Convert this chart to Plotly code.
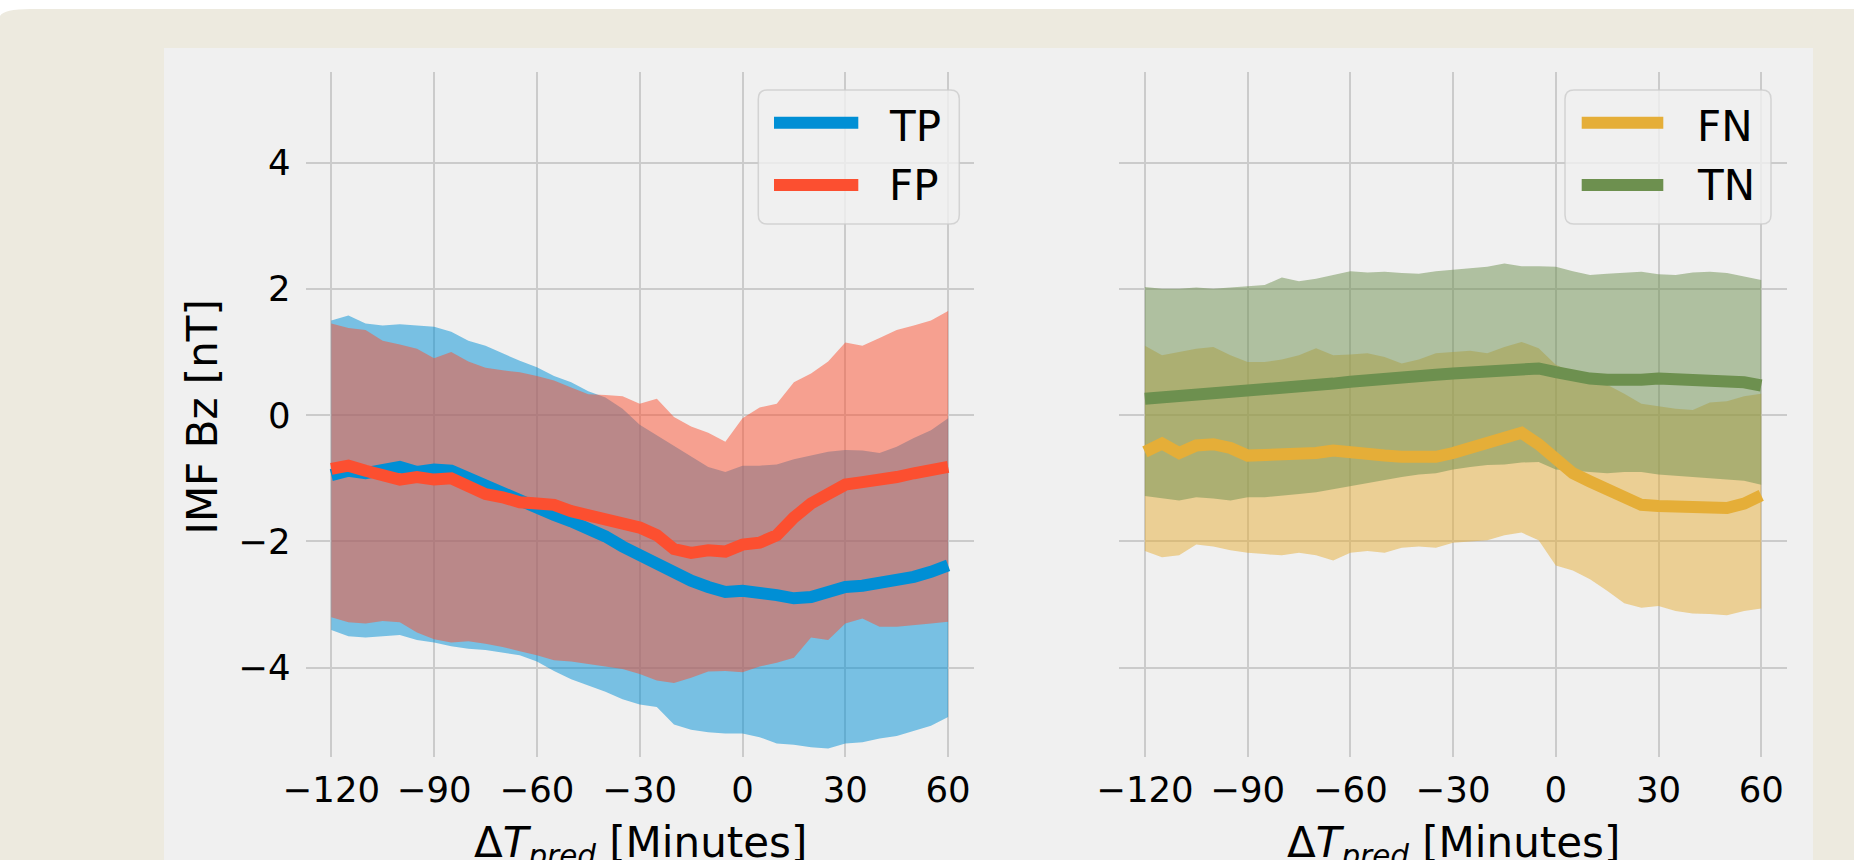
import plotly.graph_objects as go

# ---------------- data ----------------
minutes = list(range(-120, 61, 5))
x_ticks = [-120, -90, -60, -30, 0, 30, 60]
y_ticks = [-4, -2, 0, 2, 4]

tp_mean = [-0.95, -0.88, -0.92, -0.85, -0.82, -0.90, -0.86, -0.88, -1.00, -1.10, -1.22, -1.38, -1.50,
           -1.58, -1.68, -1.78, -1.92, -2.08, -2.22, -2.38, -2.50, -2.62, -2.72, -2.80, -2.78, -2.80,
           -2.85, -2.90, -2.88, -2.80, -2.72, -2.70, -2.66, -2.62, -2.56, -2.48, -2.38]
tp_upper = [1.50, 1.58, 1.45, 1.42, 1.44, 1.42, 1.40, 1.32, 1.18, 1.10, 0.98, 0.86, 0.76, 0.62, 0.52,
            0.38, 0.28, 0.10, -0.15, -0.32, -0.48, -0.65, -0.82, -0.90, -0.80, -0.80, -0.78, -0.70,
            -0.64, -0.58, -0.55, -0.56, -0.60, -0.50, -0.36, -0.24, -0.05]
tp_lower = [-3.40, -3.50, -3.52, -3.50, -3.48, -3.56, -3.60, -3.66, -3.70, -3.72, -3.76, -3.80, -3.90,
            -4.05, -4.18, -4.28, -4.38, -4.50, -4.58, -4.62, -4.90, -4.98, -5.02, -5.04, -5.04, -5.10,
            -5.20, -5.22, -5.26, -5.28, -5.20, -5.18, -5.12, -5.08, -5.00, -4.92, -4.78]

fp_mean = [-0.85, -0.80, -0.88, -0.95, -1.02, -0.98, -1.02, -1.00, -1.15, -1.25, -1.30, -1.38, -1.40,
           -1.42, -1.52, -1.58, -1.65, -1.72, -1.78, -1.90, -2.12, -2.18, -2.14, -2.16, -2.05, -2.02,
           -1.90, -1.62, -1.40, -1.25, -1.10, -1.06, -1.03, -0.98, -0.92, -0.88, -0.82]
fp_upper = [1.45, 1.38, 1.35, 1.18, 1.12, 1.05, 0.90, 1.00, 0.85, 0.75, 0.71, 0.68, 0.62, 0.55, 0.44,
            0.33, 0.32, 0.30, 0.18, 0.26, -0.03, -0.18, -0.28, -0.42, -0.05, 0.12, 0.18, 0.52, 0.66,
            0.85, 1.15, 1.10, 1.22, 1.35, 1.42, 1.50, 1.65]
fp_lower = [-3.20, -3.28, -3.30, -3.26, -3.28, -3.44, -3.55, -3.60, -3.58, -3.62, -3.67, -3.74, -3.80,
            -3.88, -3.90, -3.94, -3.98, -4.02, -4.10, -4.20, -4.24, -4.16, -4.06, -4.05, -4.07, -3.98,
            -3.92, -3.84, -3.52, -3.56, -3.30, -3.22, -3.35, -3.35, -3.32, -3.30, -3.27]

fn_mean = [-0.58, -0.45, -0.60, -0.48, -0.46, -0.52, -0.64, -0.64, -0.63, -0.62, -0.60, -0.56, -0.60,
           -0.63, -0.64, -0.66, -0.68, -0.66, -0.60, -0.52, -0.44, -0.38, -0.28, -0.46, -0.72, -0.92,
           -1.05, -1.16, -1.30, -1.42, -1.44, -1.45, -1.48, -1.50, -1.47, -1.40, -1.27]
fn_upper = [1.10, 0.95, 1.00, 1.05, 1.08, 0.95, 0.84, 0.84, 0.88, 0.95, 1.06, 0.95, 0.96, 0.98, 0.92,
            0.82, 0.88, 0.98, 1.00, 1.02, 0.98, 1.08, 1.16, 1.06, 0.80, 0.68, 0.58, 0.48, 0.34, 0.18,
            0.14, 0.10, 0.08, 0.20, 0.22, 0.30, 0.34]
fn_lower = [-2.15, -2.25, -2.22, -2.05, -2.08, -2.14, -2.18, -2.20, -2.22, -2.18, -2.22, -2.30, -2.18,
            -2.15, -2.18, -2.10, -2.08, -2.10, -2.02, -2.00, -1.98, -1.90, -1.86, -1.98, -2.38, -2.46,
            -2.60, -2.78, -2.98, -3.05, -3.02, -3.10, -3.14, -3.15, -3.17, -3.10, -3.06]

tn_mean = [0.26, 0.28, 0.29, 0.32, 0.34, 0.37, 0.36, 0.38, 0.40, 0.44, 0.47, 0.50, 0.53, 0.56, 0.58,
           0.60, 0.62, 0.64, 0.66, 0.68, 0.71, 0.72, 0.74, 0.74, 0.68, 0.62, 0.58, 0.56, 0.55, 0.56,
           0.58, 0.57, 0.56, 0.55, 0.54, 0.52, 0.47]
tn_upper = [2.03, 2.00, 2.00, 2.02, 2.00, 2.02, 2.04, 2.06, 2.18, 2.12, 2.16, 2.22, 2.28, 2.26, 2.27,
            2.25, 2.24, 2.28, 2.30, 2.33, 2.35, 2.40, 2.36, 2.36, 2.35, 2.28, 2.22, 2.24, 2.25, 2.27,
            2.23, 2.22, 2.26, 2.27, 2.25, 2.20, 2.14]
tn_lower = [-1.28, -1.32, -1.35, -1.30, -1.32, -1.35, -1.30, -1.30, -1.28, -1.25, -1.22, -1.18, -1.12,
            -1.08, -1.03, -0.98, -0.94, -0.92, -0.86, -0.82, -0.79, -0.78, -0.75, -0.74, -0.86, -0.88,
            -0.90, -0.92, -0.90, -0.90, -0.94, -0.96, -0.98, -1.00, -1.02, -1.04, -1.10]

# ---------------- styling ----------------
W, H = 1854, 860
FONT = "DejaVu Sans"
C_TP, C_FP, C_FN, C_TN = "#008fd5", "#fc4f30", "#e5ae38", "#6d904f"
F_TP, F_FP = "rgba(0,143,213,0.5)", "rgba(252,79,48,0.5)"
F_FN, F_TN = "rgba(229,174,56,0.5)", "rgba(109,144,79,0.5)"
LW = 12
GRID = "#cbcbcb"


def fx(px):
    return px / W


def fy(py):
    return 1 - py / H


fig = go.Figure()


def add_band(lower, upper, fill, xa, ya):
    fig.add_trace(go.Scatter(
        x=minutes + minutes[::-1], y=upper + lower[::-1], fill="toself", fillcolor=fill,
        mode="lines", line=dict(width=0), hoverinfo="skip", showlegend=False,
        xaxis=xa, yaxis=ya))


def add_line(vals, color, name, xa, ya):
    fig.add_trace(go.Scatter(
        x=minutes, y=vals, mode="lines", name=name, line=dict(color=color, width=LW),
        showlegend=False, xaxis=xa, yaxis=ya))


add_band(tp_lower, tp_upper, F_TP, "x", "y")
add_band(fp_lower, fp_upper, F_FP, "x", "y")
add_line(tp_mean, C_TP, "TP", "x", "y")
add_line(fp_mean, C_FP, "FP", "x", "y")

add_band(fn_lower, fn_upper, F_FN, "x2", "y2")
add_band(tn_lower, tn_upper, F_TN, "x2", "y2")
add_line(fn_mean, C_FN, "FN", "x2", "y2")
add_line(tn_mean, C_TN, "TN", "x2", "y2")

ydom = [fy(757), fy(72)]
axis_common = dict(showgrid=True, gridcolor=GRID, gridwidth=2, zeroline=False, showline=False,
                   ticks="", fixedrange=True, automargin=False,
                   tickfont=dict(family=FONT, size=35.5, color="#000000"))

fig.update_layout(
    width=W, height=H,
    margin=dict(l=0, r=0, t=0, b=0, pad=0, autoexpand=False),
    paper_bgcolor="#EDEADF",
    plot_bgcolor="rgba(0,0,0,0)",
    showlegend=False,
    xaxis=dict(domain=[fx(305.6), fx(973.8)], range=[-127.5, 67.5], tickvals=x_ticks,
               anchor="y", ticklabelstandoff=8, **axis_common),
    yaxis=dict(domain=ydom, range=[-5.413, 5.434], tickvals=y_ticks, anchor="x",
               ticklabelstandoff=14, **axis_common),
    xaxis2=dict(domain=[fx(1119.2), fx(1786.9)], range=[-127.5, 67.5], tickvals=x_ticks,
                anchor="y2", ticklabelstandoff=8, **axis_common),
    yaxis2=dict(domain=ydom, range=[-5.413, 5.434], tickvals=y_ticks, anchor="x2",
                showticklabels=False, **axis_common),
)

shapes = []
# page decorations: white strip with rounded beige corner, light figure panel
shapes.append(dict(type="path", xref="paper", yref="paper", layer="below",
                   path=f"M 0 1 L 1 1 L 1 {fy(9)} L {fx(30)} {fy(9)} Q {fx(4)} {fy(9)} 0 {fy(16)} Z",
                   fillcolor="#FFFFFF", line=dict(width=0)))
shapes.append(dict(type="rect", xref="paper", yref="paper", layer="below",
                   x0=fx(164), x1=fx(1813), y0=fy(870), y1=fy(48),
                   fillcolor="#F0F0F0", line=dict(width=0)))


def rounded_box(x0, y0, x1, y1, r):
    p = (f"M {fx(x0 + r)} {fy(y0)} L {fx(x1 - r)} {fy(y0)} Q {fx(x1)} {fy(y0)} {fx(x1)} {fy(y0 + r)} "
         f"L {fx(x1)} {fy(y1 - r)} Q {fx(x1)} {fy(y1)} {fx(x1 - r)} {fy(y1)} "
         f"L {fx(x0 + r)} {fy(y1)} Q {fx(x0)} {fy(y1)} {fx(x0)} {fy(y1 - r)} "
         f"L {fx(x0)} {fy(y0 + r)} Q {fx(x0)} {fy(y0)} {fx(x0 + r)} {fy(y0)} Z")
    return dict(type="path", xref="paper", yref="paper", layer="above", path=p,
                fillcolor="rgba(240,240,240,0.8)", line=dict(color="rgba(204,204,204,0.8)", width=1.5))


annotations = []


def legend(box, line_x, text_x, items):
    shapes.append(rounded_box(*box, 9))
    for (label, color), ly, ty in zip(items, [122.7, 185], [126.2, 185.5]):
        shapes.append(dict(type="line", xref="paper", yref="paper", layer="above",
                           x0=fx(line_x[0]), x1=fx(line_x[1]), y0=fy(ly), y1=fy(ly),
                           line=dict(color=color, width=12)))
        annotations.append(dict(text=label, xref="paper", yref="paper", x=fx(text_x), y=fy(ty),
                                xanchor="left", yanchor="middle", showarrow=False,
                                font=dict(family=FONT, size=42, color="#000000")))


legend((758.3, 90, 959.3, 224), (774, 858.3), 887, [("TP", C_TP), ("FP", C_FP)])
legend((1565, 90, 1771, 224), (1581.7, 1663.3), 1694.5, [("FN", C_FN), ("TN", C_TN)])

annotations.append(dict(text="IMF Bz [nT]", xref="paper", yref="paper", x=fx(202), y=fy(417.5),
                        textangle=-90, xanchor="center", yanchor="middle", showarrow=False,
                        font=dict(family=FONT, size=42, color="#000000")))
xtitle = "Δ<i>T</i><sub><i>pred</i></sub> [Minutes]"
for cx in (640, 1453):
    annotations.append(dict(text=xtitle, xref="paper", yref="paper", x=fx(cx), y=fy(845),
                            xanchor="center", yanchor="middle", showarrow=False,
                            font=dict(family=FONT, size=42, color="#000000")))

fig.update_layout(shapes=shapes, annotations=annotations)
fig.write_html("out.html")
